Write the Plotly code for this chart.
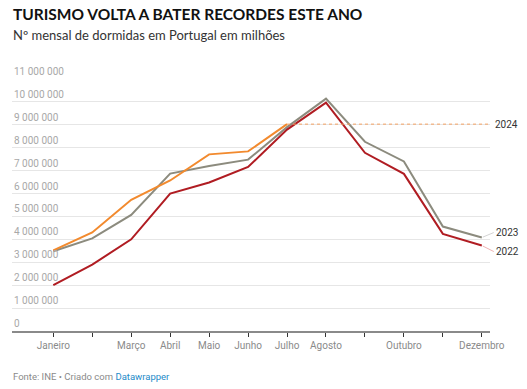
import plotly.graph_objects as go

months = ["Janeiro", "Fevereiro", "Março", "Abril", "Maio", "Junho", "Julho",
          "Agosto", "Setembro", "Outubro", "Novembro", "Dezembro"]
month_labels = ["Janeiro", "", "Março", "Abril", "Maio", "Junho", "Julho",
                "Agosto", "", "Outubro", "", "Dezembro"]

v2022 = [2.00, 2.90, 4.00, 6.00, 6.48, 7.16, 8.79, 9.97, 7.78, 6.86, 4.24, 3.73]
v2023 = [3.48, 4.04, 5.07, 6.87, 7.20, 7.48, 8.90, 10.14, 8.26, 7.40, 4.56, 4.08]
v2024 = [3.52, 4.30, 5.73, 6.57, 7.71, 7.84, 9.03]

ytick_vals = [0, 1, 2, 3, 4, 5, 6, 7, 8, 9, 10, 11]
ytick_labels = ["0", "1 000 000", "2 000 000", "3 000 000", "4 000 000", "5 000 000",
                "6 000 000", "7 000 000", "8 000 000", "9 000 000", "10 000 000", "11 000 000"]

c2022 = "#b01c22"
c2023 = "#8c8b7e"
c2024 = "#f28a2e"

x = list(range(12))
fig = go.Figure()
fig.add_trace(go.Scatter(x=x, y=v2023, mode="lines", line=dict(color=c2023, width=2), hoverinfo="skip"))
fig.add_trace(go.Scatter(x=x, y=v2022, mode="lines", line=dict(color=c2022, width=2), hoverinfo="skip"))
fig.add_trace(go.Scatter(x=x[:len(v2024)], y=v2024, mode="lines", line=dict(color=c2024, width=2), hoverinfo="skip"))

# dotted reference line for 2024 level
fig.add_shape(type="line", xref="x", yref="y", x0=len(v2024) - 1, x1=11.2,
              y0=v2024[-1], y1=v2024[-1], line=dict(color="#f4a060", width=1, dash="dot"))

# y tick labels above gridlines
for v, lab in zip(ytick_vals, ytick_labels):
    fig.add_annotation(xref="paper", yref="y", x=0, y=v, text=lab, showarrow=False,
                       xanchor="left", yanchor="bottom", yshift=0,
                       font=dict(family="Roboto", size=10, color="#a8a8a8"))

# series labels
lab_font = dict(family="Roboto", size=10, color="#333333")
fig.add_annotation(xref="paper", yref="y", x=1, y=v2024[-1], text="2024", showarrow=False,
                   xanchor="left", yanchor="middle", xshift=3, font=lab_font)
fig.add_annotation(xref="x", yref="y", x=11, y=v2023[-1], text="2023", showarrow=True,
                   arrowhead=0, arrowwidth=0.8, arrowcolor="#c8c8c8", standoff=1,
                   ax=12, ay=-5, xanchor="left", yanchor="middle", font=lab_font)
fig.add_annotation(xref="x", yref="y", x=11, y=v2022[-1], text="2022", showarrow=True,
                   arrowhead=0, arrowwidth=0.8, arrowcolor="#e8a0a0", standoff=1,
                   ax=12, ay=6, xanchor="left", yanchor="middle", font=lab_font)

# title, subtitle, footer
fig.add_annotation(xref="paper", yref="paper", x=0, y=1, yshift=65, text="<b>TURISMO VOLTA A BATER RECORDES ESTE ANO</b>",
                   showarrow=False, xanchor="left", yanchor="middle", xshift=-1,
                   font=dict(family="Lato", size=15.5, color="#111111"))
fig.add_annotation(xref="paper", yref="paper", x=0, y=1, yshift=44, text="Nº mensal de dormidas em Portugal em milhões",
                   showarrow=False, xanchor="left", yanchor="middle", xshift=-1,
                   font=dict(family="Lato", size=13, color="#333333"))
fig.add_annotation(xref="paper", yref="paper", x=0, y=0, yshift=-45,
                   text="Fonte: INE • Criado com <span style='color:#1d8bc9'>Datawrapper</span>",
                   showarrow=False, xanchor="left", yanchor="middle", xshift=-1,
                   font=dict(family="Roboto", size=9.5, color="#8a8a8a"))

fig.update_layout(
    width=527, height=389,
    margin=dict(l=12, r=37, t=79, b=58),
    paper_bgcolor="white", plot_bgcolor="white",
    showlegend=False,
    xaxis=dict(range=[-1.06, 11.21], tickmode="array", tickvals=x, ticktext=month_labels,
               showgrid=False, zeroline=False, showline=True, linecolor="#8a8a8a", linewidth=2,
               ticks="outside", ticklen=4, tickcolor="#333333", tickwidth=1,
               tickfont=dict(family="Roboto", size=10, color="#8a8a8a"), fixedrange=True),
    yaxis=dict(range=[0, 11], tickmode="array", tickvals=ytick_vals, showticklabels=False,
               showgrid=True, gridcolor="#e6e6e6", gridwidth=1, zeroline=False, fixedrange=True),
)

fig.write_html("out.html", config={"displayModeBar": False},
               post_script="document.body.style.margin='0';")
